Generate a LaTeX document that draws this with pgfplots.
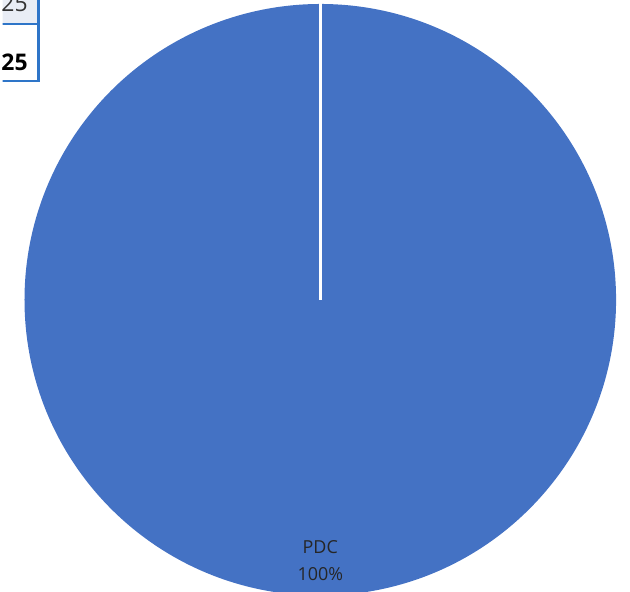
\documentclass[border=0pt]{standalone}
\usepackage{pgfplots}
\pgfplotsset{compat=1.18}
\usepackage{pgfplotstable}
\usepackage{fontspec}
\setmainfont{Open Sans}
\definecolor{pieblue}{HTML}{4472C4}
\definecolor{boxblue}{HTML}{2E75C8}
\definecolor{cellgrey}{HTML}{E9EDF5}
\pgfplotstableread{
label value
PDC 100
}\piedata
\begin{document}
\pgfplotstablegetelem{0}{value}\of\piedata
\pgfmathsetmacro{\endang}{90-3.6*\pgfplotsretval}
\begin{tikzpicture}
\begin{axis}[
  width=630pt, height=594pt, scale only axis,
  xmin=0, xmax=630, ymin=0, ymax=594,
  hide axis, clip=true,
]
\fill[pieblue] (axis cs:319,293) -- ++(90:297pt) arc[start angle=90, end angle=\endang, radius=297pt] -- cycle;
\draw[white, line width=3pt] (axis cs:319,293) -- (axis cs:319,600);
\node[align=center, font=\fontsize{18}{27}\selectfont, text=black!85] at (axis cs:319,31) {PDC\\100\%};
% table fragment top-left
\fill[cellgrey] (axis cs:-5,570) rectangle (axis cs:36,600);
\fill[white] (axis cs:-5,513) rectangle (axis cs:36,570);
\draw[boxblue, line width=2.2pt] (axis cs:-5,570) -- (axis cs:36,570);
\draw[boxblue, line width=2.2pt] (axis cs:36,600) -- (axis cs:36,513) -- (axis cs:-5,513);
\node[font=\fontsize{23}{26}\selectfont, text=black!80, anchor=base] at (axis cs:12,582) {25};
\node[font=\bfseries\fontsize{23}{26}\selectfont, anchor=base] at (axis cs:12,523) {25};
\end{axis}
\pgfresetboundingbox
\path (current axis.south west) rectangle (current axis.north east);
\end{tikzpicture}
\end{document}
